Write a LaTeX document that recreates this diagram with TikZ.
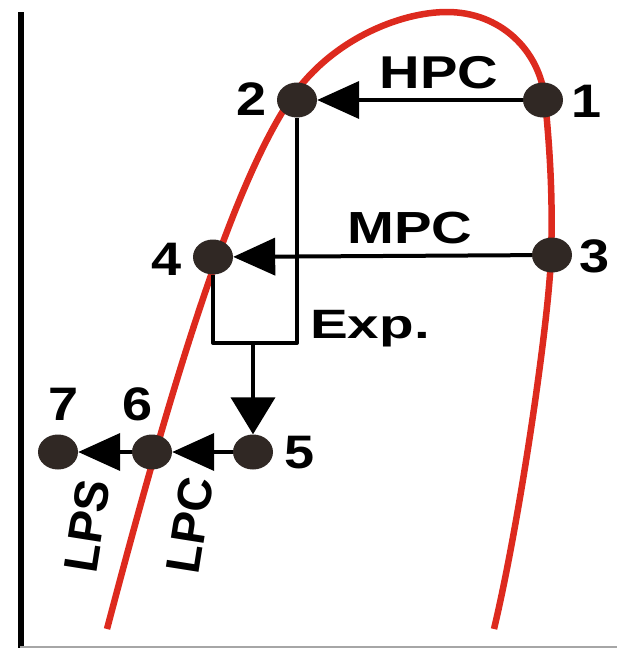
\documentclass[tikz,border=0pt]{standalone}
\usepackage{fontspec}
\setmainfont{Liberation Sans}
\usetikzlibrary{arrows.meta,shapes.geometric}

\definecolor{curvered}{HTML}{DD2A1E}
\definecolor{dotbrown}{HTML}{302824}

\tikzset{
  statept/.style={ellipse, fill=dotbrown, minimum width=40pt, minimum height=35pt, inner sep=0pt},
  conn/.style={line width=4pt, line join=round},
  hhead/.style={-{Triangle[length=42pt,width=37pt]}},
  vhead/.style={-{Triangle[length=37pt,width=44pt]}},
  numlbl/.style={font=\bfseries\fontsize{47}{50}\selectfont, inner sep=0pt, anchor=base, xscale=1.15},
  proclbl/.style={font=\bfseries\fontsize{46}{50}\selectfont, inner sep=0pt, anchor=base},
  sidelbl/.style={font=\bfseries\fontsize{48}{50}\selectfont, inner sep=0pt, anchor=center, rotate=81}
}

\begin{document}
\begin{tikzpicture}[x=1pt,y=-1pt]
  \useasboundingbox (0,0) rectangle (617,648);

  % axes
  \draw[line width=6pt] (20.5,12) -- (20.5,648);
  \draw[black!35, line width=2pt] (20,646.5) -- (617,646.5);

  % saturation dome
  \draw[curvered, line width=6.5pt, line cap=butt]
    (107,629) .. controls (170,390) and (230,190) .. (290,100)
              .. controls (330,40) and (400,12) .. (447,12)
              .. controls (500,12) and (540,50) .. (545,100)
              .. controls (550,150) and (553,200) .. (551,256)
              .. controls (549,320) and (520,520) .. (494,629);

  % state points
  \node[statept] (p1) at (543,100) {};
  \node[statept] (p2) at (297,100) {};
  \node[statept] (p3) at (552,255) {};
  \node[statept] (p4) at (213,257) {};
  \node[statept] (p5) at (253,452) {};
  \node[statept] (p6) at (152,452) {};
  \node[statept] (p7) at (58,452) {};

  % compression and expansion paths
  \coordinate (boxbot) at (253,343);
  \draw[conn, hhead] (p1) -- (p2);
  \draw[conn, hhead] (p3) -- (p4);
  \draw[conn] (p2.south) -- (p2.south |- boxbot) -- (p4.south |- boxbot) -- (p4.south);
  \draw[conn, vhead] (boxbot) -- (p5);
  \draw[conn, hhead] (p5) -- (p6);
  \draw[conn, hhead] (p6) -- (p7);

  % point numbers
  \node[numlbl] (n1) at (587,117) {1};
  \node[numlbl] (n2) at (252,115) {2};
  \node[numlbl] (n3) at (595,272) {3};
  \node[numlbl] (n4) at (167,275) {4};
  \node[numlbl] (n5) at (300,468) {5};
  \node[numlbl] (n6) at (138,420) {6};
  \node[numlbl] (n7) at (64,420) {7};

  % process labels
  \node[proclbl, xscale=1.22] (hpc) at (439,88) {HPC};
  \node[proclbl, xscale=1.25, font=\bfseries\fontsize{45}{50}\selectfont] (mpc) at (410,243) {MPC};
  \node[proclbl, xscale=1.38, font=\bfseries\fontsize{41}{50}\selectfont] (exp) at (370,338) {Exp.};
  \node[sidelbl] (lps) at (87,526) {LPS};
  \node[sidelbl] (lpc) at (190,525) {LPC};
\end{tikzpicture}
\end{document}
